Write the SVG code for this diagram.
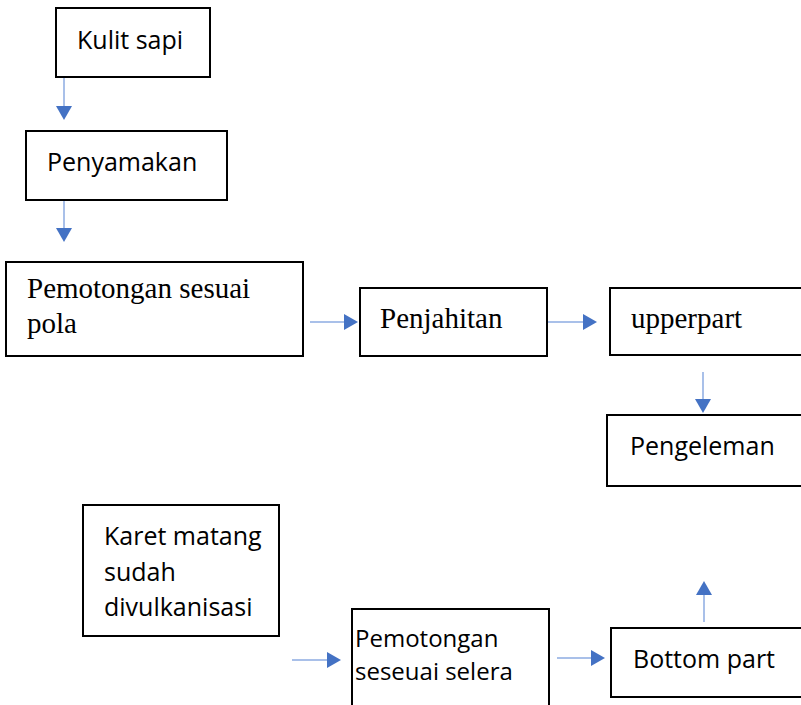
<svg xmlns="http://www.w3.org/2000/svg" width="801" height="705" viewBox="0 0 801 705">
<style>
.box{fill:#fff;stroke:#000;stroke-width:2}
.s{font-family:"Open Sans","Noto Sans",sans-serif;font-size:25px;fill:#000}
.sm{font-size:24px}
.t{font-family:"Liberation Serif","Times New Roman",serif;font-size:29px;fill:#000}
.c{stroke:#a9c0e9;stroke-width:2;fill:none}
</style>
<defs>
<marker id="ah" markerUnits="userSpaceOnUse" markerWidth="15" markerHeight="16" refX="0" refY="8" orient="auto" overflow="visible">
<path d="M0,0 L14,8 L0,16 z" fill="#4472c4"/>
</marker>
</defs>
<rect width="801" height="705" fill="#fff"/>
<g id="connectors">
<line class="c" x1="64" y1="77" x2="64" y2="106" marker-end="url(#ah)"/>
<line class="c" x1="64" y1="200" x2="64" y2="228" marker-end="url(#ah)"/>
<line class="c" x1="310" y1="322" x2="344" y2="322" marker-end="url(#ah)"/>
<line class="c" x1="548" y1="322" x2="583" y2="322" marker-end="url(#ah)"/>
<line class="c" x1="703" y1="372" x2="703" y2="399" marker-end="url(#ah)"/>
<line class="c" x1="292" y1="660" x2="327" y2="660" marker-end="url(#ah)"/>
<line class="c" x1="557" y1="658" x2="591" y2="658" marker-end="url(#ah)"/>
<line class="c" x1="704" y1="622" x2="704" y2="595" marker-end="url(#ah)"/>
</g>
<g id="kulit-sapi">
<rect class="box" x="56" y="8" width="154" height="69"/>
<text class="s" x="77" y="49">Kulit sapi</text>
</g>
<g id="penyamakan">
<rect class="box" x="26" y="131" width="201" height="69"/>
<text class="s" x="47" y="171">Penyamakan</text>
</g>
<g id="pemotongan-pola">
<rect class="box" x="6" y="262" width="297" height="94"/>
<text class="t" x="27" y="298">Pemotongan sesuai</text>
<text class="t" x="27" y="333">pola</text>
</g>
<g id="penjahitan">
<rect class="box" x="360" y="288" width="187" height="68"/>
<text class="t" x="380" y="328">Penjahitan</text>
</g>
<g id="upperpart">
<rect class="box" x="610" y="288" width="200" height="67"/>
<text class="t" x="631" y="328">upperpart</text>
</g>
<g id="pengeleman">
<rect class="box" x="607" y="415" width="200" height="71"/>
<text class="s" x="630" y="455">Pengeleman</text>
</g>
<g id="karet">
<rect class="box" x="83" y="505" width="196" height="131"/>
<text class="s" x="104" y="545">Karet matang</text>
<text class="s" x="104" y="581">sudah</text>
<text class="s" x="104" y="616">divulkanisasi</text>
</g>
<g id="pemotongan-selera">
<rect class="box" x="352" y="609" width="197" height="110"/>
<text class="s sm" x="355" y="647">Pemotongan</text>
<text class="s sm" x="355" y="680">seseuai selera</text>
</g>
<g id="bottom-part">
<rect class="box" x="611" y="628" width="200" height="69"/>
<text class="s" x="633" y="668">Bottom part</text>
</g>
</svg>
